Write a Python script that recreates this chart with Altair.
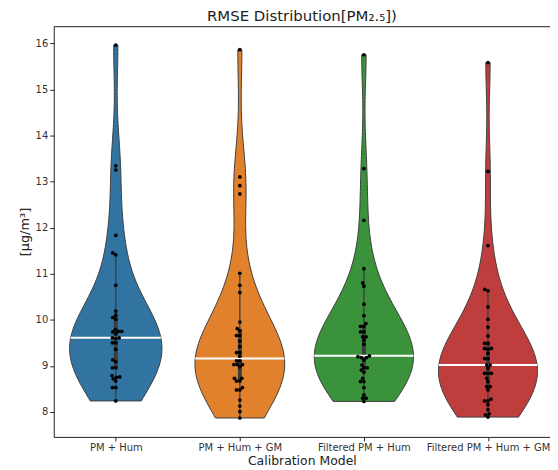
import json
import numpy as np
import pandas as pd
import altair as alt

models = ["PM + Hum", "PM + Hum + GM", "Filtered PM + Hum", "Filtered PM + Hum + GM"]
colors = ["#3274a1", "#e1812c", "#3a923a", "#c03d3e"]

rmse_pm_hum = [15.96, 13.34, 13.25, 11.83, 11.45, 11.41, 10.75, 10.19, 10.10, 10.05,
               10.01, 9.79, 9.75, 9.75, 9.74, 9.70, 9.61, 9.61, 9.60, 9.50, 9.50,
               9.36, 9.13, 9.09, 8.96, 8.96, 8.79, 8.76, 8.75, 8.72, 8.67, 8.53,
               8.53, 8.24]
rmse_pm_hum_gm = [15.86, 13.10, 12.91, 12.73, 11.01, 10.75, 10.59, 9.95, 9.81, 9.76,
                  9.66, 9.66, 9.54, 9.42, 9.29, 9.29, 9.21, 9.11, 9.11, 9.03, 9.03,
                  9.03, 8.98, 8.73, 8.73, 8.67, 8.67, 8.53, 8.48, 8.48, 8.26, 8.13,
                  8.01, 7.87]
rmse_filt_pm_hum = [15.75, 13.28, 12.16, 11.11, 10.80, 10.73, 10.34, 10.09, 9.92, 9.86,
                    9.86, 9.74, 9.74, 9.63, 9.63, 9.56, 9.47, 9.22, 9.20, 9.18, 9.18,
                    9.13, 9.02, 8.96, 8.96, 8.91, 8.86, 8.73, 8.66, 8.66, 8.53, 8.37,
                    8.30, 8.30, 8.23]
rmse_filt_pm_hum_gm = [15.58, 13.22, 11.61, 10.66, 10.63, 10.28, 10.01, 9.84, 9.65, 9.49,
                       9.49, 9.38, 9.38, 9.36, 9.27, 9.16, 9.16, 9.02, 9.02, 8.95, 8.84,
                       8.84, 8.84, 8.73, 8.66, 8.55, 8.55, 8.48, 8.28, 8.24, 8.24, 8.16,
                       8.05, 7.96, 7.94, 7.89]
y_ticks = [8, 9, 10, 11, 12, 13, 14, 15, 16]

groups = [rmse_pm_hum, rmse_pm_hum_gm, rmse_filt_pm_hum, rmse_filt_pm_hum_gm]

W, H = 499, 413
Y_DOM = [7.46, 16.37]
X_DOM = [-0.5, 3.5]
PX_Y = H / (Y_DOM[1] - Y_DOM[0])
PX_X = W / (X_DOM[1] - X_DOM[0])


def kde(vals, grid):
    v = np.asarray(vals, dtype=float)
    n = len(v)
    bw = v.std(ddof=1) * n ** (-0.2)
    z = (grid[:, None] - v[None, :]) / bw
    return np.exp(-0.5 * z ** 2).sum(1) / (n * bw * np.sqrt(2 * np.pi))


# violin outlines (seaborn style: cut=0, scale="area", width 0.8)
dens = []
for vals in groups:
    grid = np.linspace(min(vals), max(vals), 100)
    dens.append((grid, kde(vals, grid)))
gmax = max(d.max() for _, d in dens)

vrows, brows, prows = [], [], []
for i, (vals, (grid, d)) in enumerate(zip(groups, dens)):
    hw = 0.4 * d / gmax
    for g, h in zip(grid, hw):
        vrows.append({"model": models[i], "value": g, "left": i - h, "right": i + h})
    v = np.asarray(vals)
    q1, med, q3 = np.percentile(v, [25, 50, 75])
    iqr = q3 - q1
    lo = v[v >= q1 - 1.5 * iqr].min()
    hi = v[v <= q3 + 1.5 * iqr].max()
    mhw = 0.4 * kde(vals, np.array([med]))[0] / gmax
    brows.append({"model": models[i], "pos": i, "q1": q1, "q3": q3, "lo": lo, "hi": hi,
                  "med": med, "ml": i - mhw, "mr": i + mhw})
    # beeswarm offsets
    d_px = 3.4
    order = np.argsort(v, kind="stable")
    cand = sorted(np.round(np.arange(-40, 40.001, 0.2), 2), key=abs)
    placed = []
    offs = np.zeros(len(v))
    for k in order:
        ypx = v[k] * PX_Y
        for c in cand:
            if all((c - px) ** 2 + (ypx - py) ** 2 >= d_px ** 2 for py, px in placed):
                break
        placed.append((ypx, c))
        offs[k] = c / PX_X
    for k in range(len(v)):
        prows.append({"model": models[i], "value": v[k], "x": i + offs[k]})

vdf = pd.DataFrame(vrows)
bdf = pd.DataFrame(brows)
pdf = pd.DataFrame(prows)

label_expr = json.dumps(models) + "[datum.value]"

xscale = alt.Scale(domain=X_DOM, nice=False, zero=False)
yscale = alt.Scale(domain=Y_DOM, nice=False, zero=False)
xaxis = alt.Axis(values=[0, 1, 2, 3], labelExpr=label_expr, title="Calibration Model",
                 grid=False, domain=False, tickSize=4, labelPadding=2, titlePadding=2,
                 labelFontSize=10, titleFontSize=12.5)
yaxis = alt.Axis(values=y_ticks, title="[μg/m³]", grid=False, domain=False, tickSize=4,
                 labelPadding=2, titlePadding=4, labelFontSize=10, titleFontSize=13)
color = alt.Color("model:N", scale=alt.Scale(domain=models, range=colors), legend=None)

violin = alt.Chart(vdf).mark_area(orient="horizontal", stroke="#3d3d3d", strokeWidth=1,
                                   opacity=1).encode(
    y=alt.Y("value:Q", scale=yscale, axis=yaxis),
    x=alt.X("left:Q", scale=xscale, axis=xaxis),
    x2="right:Q",
    color=color,
    detail="model:N",
)

whisk = alt.Chart(bdf).mark_rule(color="#3d3d3d", strokeWidth=1.3).encode(
    x="pos:Q", y="lo:Q", y2="hi:Q")
box = alt.Chart(bdf).mark_rule(color="#3d3d3d", strokeWidth=4).encode(
    x="pos:Q", y="q1:Q", y2="q3:Q")
medline = alt.Chart(bdf).mark_rule(color="white", strokeWidth=2).encode(
    x="ml:Q", x2="mr:Q", y="med:Q")
points = alt.Chart(pdf).mark_circle(color="black", size=14, opacity=1).encode(
    x="x:Q", y="value:Q")

chart = alt.layer(violin, whisk, box, medline, points).properties(
    width=W, height=H,
    title=alt.TitleParams("RMSE Distribution[PM₂.₅])", fontSize=15, fontWeight="normal",
                          anchor="middle", offset=2, color="#222"),
    padding={"left": 10, "top": 0, "right": 0, "bottom": 0},
).configure_view(stroke="#222", strokeWidth=1).configure_axis(
    labelFont="DejaVu Sans", titleFont="DejaVu Sans", labelColor="#333",
    titleColor="#222", tickColor="#222", titleFontWeight="normal",
).configure_title(font="DejaVu Sans")

chart.save("out.html", embed_options={"renderer": "svg", "actions": False})
